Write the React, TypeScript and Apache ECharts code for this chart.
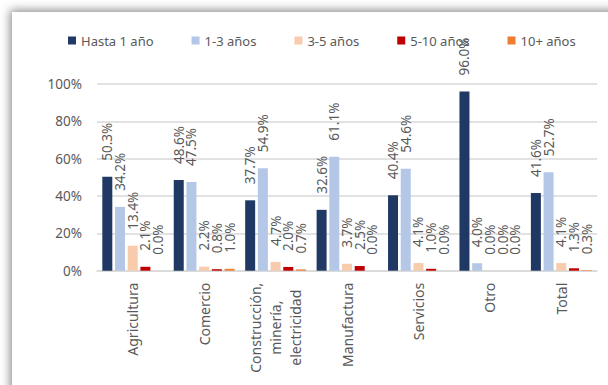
import React, { useEffect, useRef } from "react";
import * as echarts from "echarts";

const categories = [
  "Agricultura",
  "Comercio",
  "Construcción,\nminería,\nelectricidad",
  "Manufactura",
  "Servicios",
  "Otro",
  "Total",
];
const seriesNames = ["Hasta 1 año", "1-3 años", "3-5 años", "5-10 años", "10+ años"];
const hasta1 = [50.3, 48.6, 37.7, 32.6, 40.4, 96.0, 41.6];
const de1a3 = [34.2, 47.5, 54.9, 61.1, 54.6, 4.0, 52.7];
const de3a5 = [13.4, 2.2, 4.7, 3.7, 4.1, 0.0, 4.1];
const de5a10 = [2.1, 0.8, 2.0, 2.5, 1.0, 0.0, 1.3];
const mas10 = [0.0, 1.0, 0.7, 0.0, 0.0, 0.0, 0.3];
const seriesValues = [hasta1, de1a3, de3a5, de5a10, mas10];
const colors = ["#1f3864", "#b4c7e7", "#f8cbad", "#c00000", "#ed7d31"];
const yTicks = [0, 20, 40, 60, 80, 100];

const FONT = "Noto Sans";
const GRAY = "#595959";

export default function App() {
  const ref = useRef<HTMLDivElement>(null);
  useEffect(() => {
    document.body.style.margin = "0";
    if (!ref.current) return;
    const chart = echarts.init(ref.current, null, { renderer: "svg" });
    chart.setOption({
      animation: false,
      backgroundColor: "transparent",
      textStyle: { fontFamily: FONT },
      legend: {
        left: 63,
        top: 29,
        itemWidth: 8,
        itemHeight: 8,
        itemGap: 38,
        icon: "rect",
        data: seriesNames,
        textStyle: { fontFamily: FONT, fontSize: 13, color: GRAY },
      },
      grid: { left: 97, right: 11, top: 84, bottom: 114.3, containLabel: false },
      xAxis: {
        type: "category",
        data: categories,
        axisLine: { lineStyle: { color: "#d9d9d9", width: 1.5 } },
        axisTick: { show: false },
        axisLabel: {
          rotate: 90,
          margin: 12,
          interval: 0,
          fontFamily: FONT,
          fontSize: 14,
          color: GRAY,
          lineHeight: 20,
          formatter: (v: string) =>
            v.indexOf("\n") >= 0
              ? v
                  .split("\n")
                  .map((l) => "{c|" + l + "}")
                  .join("\n")
              : v,
          rich: {
            c: {
              width: 90,
              align: "center",
              fontFamily: FONT,
              fontSize: 14,
              color: GRAY,
              lineHeight: 20,
            },
          },
        },
      },
      yAxis: {
        type: "value",
        min: yTicks[0],
        max: yTicks[yTicks.length - 1],
        interval: 20,
        axisLine: { show: false },
        axisTick: { show: false },
        splitLine: { lineStyle: { color: "#d9d9d9", width: 1.5 } },
        axisLabel: {
          margin: 15,
          fontFamily: FONT,
          fontSize: 13.5,
          color: GRAY,
          formatter: "{value}%",
        },
      },
      series: seriesValues.map((vals, i) => ({
        name: seriesNames[i],
        type: "bar",
        data: vals,
        barWidth: 10,
        barGap: "27%",
        itemStyle: { color: colors[i] },
        label: {
          show: true,
          position: "top",
          rotate: 90,
          align: "left",
          verticalAlign: "middle",
          distance: 16,
          fontFamily: FONT,
          fontSize: 13.5,
          color: GRAY,
          formatter: (p: any) => Number(p.value).toFixed(1) + "%",
        },
      })),
    });
    return () => chart.dispose();
  }, []);

  return (
    <div
      style={{
        position: "fixed",
        left: 0,
        top: 0,
        width: 608,
        height: 385,
        overflow: "hidden",
        background: "#ffffff",
      }}
    >
      <div
        style={{
          position: "absolute",
          left: 12,
          top: 12,
          width: 700,
          height: 500,
          background: "#ffffff",
          boxShadow: "0 0 9px 2px rgba(0,0,0,0.45)",
        }}
      />
      <div ref={ref} style={{ position: "absolute", left: 0, top: 0, width: 608, height: 385 }} />
    </div>
  );
}
